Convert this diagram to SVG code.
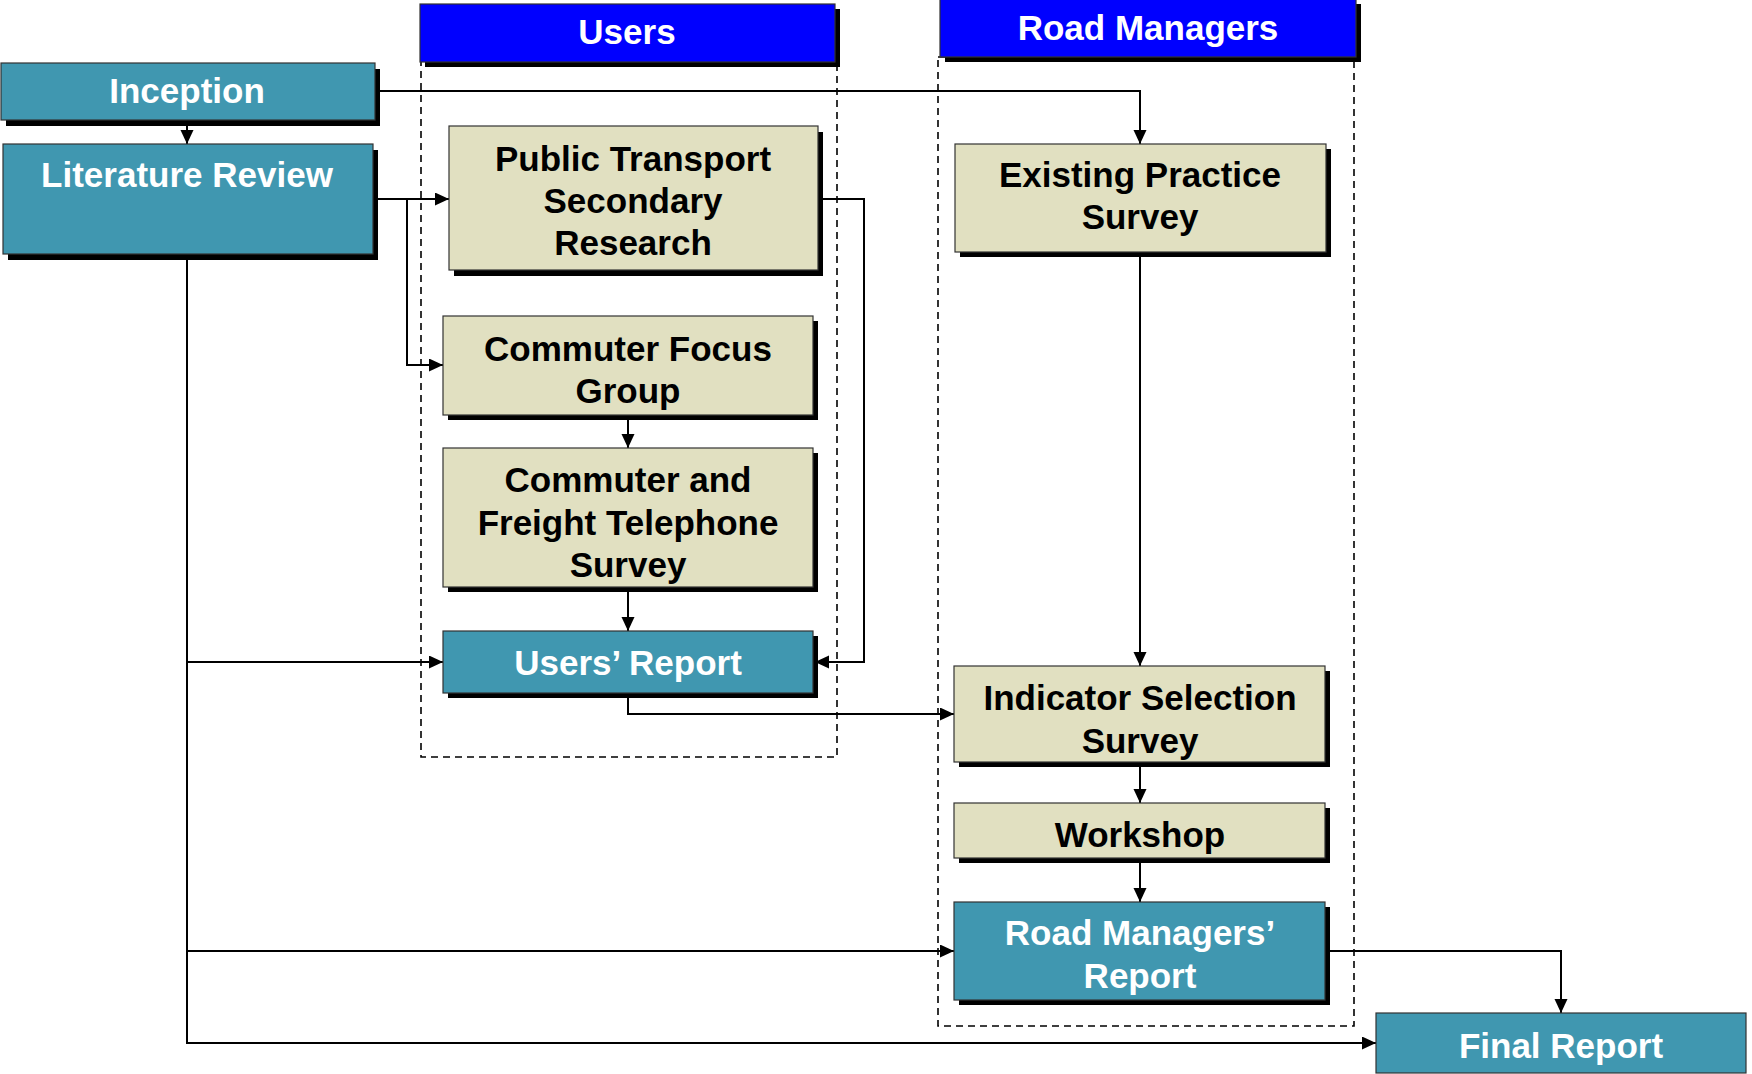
<svg xmlns="http://www.w3.org/2000/svg" width="1752" height="1074" viewBox="0 0 1752 1074">
<style>
  .shadow { fill: #000; }
  .teal { fill: #4097B0; stroke: #333; stroke-width: 1.2; }
  .beige { fill: #E1E0C1; stroke: #333; stroke-width: 1.2; }
  .hdr { fill: #0000FF; stroke: #333; stroke-width: 1.2; }
  .lane { fill: none; stroke: #000; stroke-width: 1.6; stroke-dasharray: 7 5; }
  .t { font-family: "Liberation Sans", Arial, sans-serif; font-weight: bold; font-size: 35px; text-anchor: middle; }
  .w { fill: #fff; }
  .k { fill: #000; }
  .conn path { fill: none; stroke: #000; stroke-width: 2; }
</style>
<defs>
  <marker id="arr" markerUnits="userSpaceOnUse" markerWidth="16" markerHeight="14" refX="14" refY="6.5" orient="auto">
    <path d="M0,0 L14,6.5 L0,13 z" fill="#000"/>
  </marker>
</defs>
<rect width="1752" height="1074" fill="#fff"/>

<!-- lanes -->
<g id="lane-users">
  <rect class="lane" x="421" y="60" width="416" height="697"/>
  <rect class="shadow" x="425" y="9" width="415" height="58"/>
  <rect class="hdr" x="420" y="4" width="415" height="58"/>
  <text class="t w" x="627" y="44">Users</text>
</g>
<g id="lane-road-managers">
  <rect class="lane" x="938" y="57" width="416" height="969"/>
  <rect class="shadow" x="945" y="4" width="416" height="58"/>
  <rect class="hdr" x="940" y="-1" width="416" height="58"/>
  <text class="t w" x="1148" y="40">Road Managers</text>
</g>

<!-- connectors -->
<g class="conn" id="connectors">
  <path d="M187,120 V144" marker-end="url(#arr)"/>
  <path d="M375,91 H1140 V144" marker-end="url(#arr)"/>
  <path d="M373,199 H449" marker-end="url(#arr)"/>
  <path d="M407,199 V365 H443" marker-end="url(#arr)"/>
  <path d="M628,415 V448" marker-end="url(#arr)"/>
  <path d="M628,587 V631" marker-end="url(#arr)"/>
  <path d="M818,199 H864 V662 H815" marker-end="url(#arr)"/>
  <path d="M187,254 V1043 H1376" marker-end="url(#arr)"/>
  <path d="M187,662 H443" marker-end="url(#arr)"/>
  <path d="M187,951 H954" marker-end="url(#arr)"/>
  <path d="M628,693 V714 H954" marker-end="url(#arr)"/>
  <path d="M1140,252 V666" marker-end="url(#arr)"/>
  <path d="M1140,762 V803" marker-end="url(#arr)"/>
  <path d="M1140,858 V902" marker-end="url(#arr)"/>
  <path d="M1325,951 H1561 V1013" marker-end="url(#arr)"/>
</g>

<!-- nodes -->
<g id="inception">
  <rect class="shadow" x="6" y="69" width="374" height="57"/>
  <rect class="teal" x="1" y="63" width="374" height="57"/>
  <text class="t w" x="187" y="103">Inception</text>
</g>
<g id="literature-review">
  <rect class="shadow" x="8" y="150" width="370" height="110"/>
  <rect class="teal" x="3" y="144" width="370" height="110"/>
  <text class="t w" x="187" y="187">Literature Review</text>
</g>
<g id="public-transport">
  <rect class="shadow" x="454" y="132" width="369" height="144"/>
  <rect class="beige" x="449" y="126" width="369" height="144"/>
  <text class="t k" x="633" y="171">Public Transport</text>
  <text class="t k" x="633" y="213">Secondary</text>
  <text class="t k" x="633" y="255">Research</text>
</g>
<g id="commuter-focus-group">
  <rect class="shadow" x="448" y="321" width="370" height="99"/>
  <rect class="beige" x="443" y="316" width="370" height="99"/>
  <text class="t k" x="628" y="361">Commuter Focus</text>
  <text class="t k" x="628" y="403">Group</text>
</g>
<g id="telephone-survey">
  <rect class="shadow" x="448" y="453" width="370" height="139"/>
  <rect class="beige" x="443" y="448" width="370" height="139"/>
  <text class="t k" x="628" y="492">Commuter and</text>
  <text class="t k" x="628" y="535">Freight Telephone</text>
  <text class="t k" x="628" y="577">Survey</text>
</g>
<g id="users-report">
  <rect class="shadow" x="448" y="636" width="370" height="62"/>
  <rect class="teal" x="443" y="631" width="370" height="62"/>
  <text class="t w" x="628" y="675">Users’ Report</text>
</g>
<g id="existing-practice">
  <rect class="shadow" x="960" y="149" width="371" height="108"/>
  <rect class="beige" x="955" y="144" width="371" height="108"/>
  <text class="t k" x="1140" y="187">Existing Practice</text>
  <text class="t k" x="1140" y="229">Survey</text>
</g>
<g id="indicator-selection">
  <rect class="shadow" x="959" y="671" width="371" height="96"/>
  <rect class="beige" x="954" y="666" width="371" height="96"/>
  <text class="t k" x="1140" y="710">Indicator Selection</text>
  <text class="t k" x="1140" y="753">Survey</text>
</g>
<g id="workshop">
  <rect class="shadow" x="959" y="808" width="371" height="55"/>
  <rect class="beige" x="954" y="803" width="371" height="55"/>
  <text class="t k" x="1140" y="847">Workshop</text>
</g>
<g id="road-managers-report">
  <rect class="shadow" x="959" y="907" width="371" height="98"/>
  <rect class="teal" x="954" y="902" width="371" height="98"/>
  <text class="t w" x="1140" y="945">Road Managers’</text>
  <text class="t w" x="1140" y="988">Report</text>
</g>
<g id="final-report">
  <rect class="teal" x="1376" y="1013" width="370" height="60"/>
  <text class="t w" x="1561" y="1058">Final Report</text>
</g>
</svg>
